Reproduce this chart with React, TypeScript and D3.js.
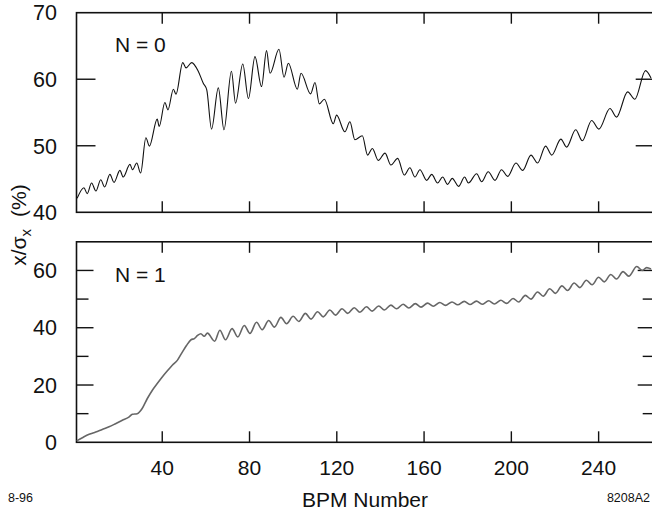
import React from "react";
import * as d3 from "d3";

// N = 0 : peaks / troughs [BPM, x/sigma_x %]
const bpmTop = [1.0, 4.1, 5.6, 7.6, 9.6, 11.8, 13.6, 16.0, 17.9, 20.6, 22.1, 25.2, 26.4, 28.3, 30.1, 32.5, 34.1, 37.7, 38.6, 41.2, 42.6, 45.1, 46.3, 49.4, 50.9, 53.5, 56.5, 58.8, 60.4, 62.6, 65.7, 68.3, 71.7, 73.6, 76.9, 79.5, 82.5, 85.5, 87.8, 89.4, 93.5, 95.8, 97.8, 101.9, 103.6, 108.0, 110.0, 112.0, 114.3, 118.4, 119.9, 123.7, 126.0, 128.3, 131.7, 134.1, 136.3, 139.0, 142.1, 144.8, 147.9, 150.9, 153.5, 155.8, 158.1, 161.2, 163.5, 166.2, 168.5, 170.8, 172.9, 175.8, 178.6, 180.3, 184.1, 186.4, 189.4, 192.5, 195.5, 198.3, 202.1, 205.2, 209.0, 212.0, 215.7, 218.5, 222.7, 225.3, 229.5, 232.5, 236.8, 240.1, 245.2, 248.2, 253.3, 256.6, 261.5, 264.0];
const valTop = [42.1, 43.7, 42.8, 44.4, 43.2, 44.9, 43.8, 45.7, 44.5, 46.3, 45.3, 47.2, 46.4, 47.4, 45.9, 51.2, 49.95, 54.0, 52.9, 56.5, 55.4, 58.5, 57.75, 62.5, 61.7, 62.5, 61.2, 59.4, 58.4, 52.5, 58.7, 52.4, 61.2, 56.4, 62.3, 57.1, 63.4, 58.9, 64.3, 60.9, 64.5, 60.3, 62.4, 58.5, 60.9, 57.8, 59.5, 56.3, 57.0, 53.3, 54.6, 52.1, 53.6, 50.9, 51.5, 48.6, 49.6, 47.8, 48.9, 47.1, 48.1, 45.6, 46.7, 45.3, 46.4, 44.8, 45.7, 44.4, 45.3, 44.2, 45.1, 43.9, 45.3, 44.4, 45.8, 44.6, 46.1, 44.8, 46.4, 45.4, 47.4, 46.3, 48.6, 47.4, 49.95, 48.6, 51.0, 49.8, 52.4, 50.75, 53.8, 52.5, 55.6, 54.3, 58.1, 57.0, 61.3, 60.2];

// N = 1
const bpmBot = [0.8, 3.4, 6.5, 9.5, 12.5, 15.6, 18.6, 21.7, 24.7, 26.3, 28.5, 30.8, 33.1, 35.4, 37.7, 40.0, 42.3, 44.6, 46.9, 49.2, 51.1, 53.2, 54.7, 56.2, 57.7, 59.2, 60.7, 64.0, 66.4, 69.0, 72.0, 74.6, 77.6, 80.2, 83.2, 85.8, 88.8, 91.4, 94.4, 97.0, 100.0, 102.6, 105.6, 108.2, 111.2, 113.8, 116.8, 119.4, 122.4, 125.0, 128.0, 130.6, 133.6, 136.2, 139.2, 141.8, 144.8, 147.4, 150.4, 153.0, 156.0, 158.6, 161.6, 164.2, 167.2, 169.8, 172.8, 175.4, 178.4, 181.0, 184.0, 186.6, 189.6, 192.2, 195.2, 197.8, 200.8, 203.4, 206.4, 209.0, 212.0, 214.6, 217.6, 220.2, 223.2, 225.8, 228.8, 231.4, 234.4, 237.0, 240.0, 242.6, 245.6, 248.2, 251.2, 253.8, 257.5, 260.0, 262.0, 264.0];
const valBot = [0.5, 1.6, 2.8, 3.6, 4.5, 5.4, 6.5, 7.7, 8.8, 9.8, 10.0, 11.8, 15.2, 18.1, 20.5, 22.8, 24.9, 26.9, 28.6, 31.5, 33.8, 35.8, 36.2, 37.3, 37.9, 37.0, 38.1, 35.3, 39.1, 35.8, 39.7, 36.8, 40.8, 38.0, 41.9, 39.3, 42.5, 40.2, 43.6, 41.4, 44.0, 42.2, 45.0, 43.0, 45.6, 43.8, 46.2, 44.4, 46.6, 45.0, 47.0, 45.4, 47.3, 45.8, 47.6, 46.2, 47.9, 46.6, 48.2, 46.9, 48.4, 47.2, 48.6, 47.5, 48.8, 47.8, 49.0, 48.0, 49.2, 48.1, 49.3, 48.2, 49.4, 48.3, 49.6, 48.5, 50.2, 49.0, 51.3, 50.0, 52.5, 51.0, 53.6, 52.0, 54.6, 53.0, 55.6, 54.0, 56.6, 55.0, 57.6, 56.0, 58.6, 57.0, 59.6, 58.0, 61.4, 60.0, 61.0, 60.5];

const xTicks = [40, 80, 120, 160, 200, 240];
const topYTicks = [40, 50, 60, 70];
const topYInner = [50, 60];
const botYTicks = [0, 20, 40, 60];
const botYMinor = [10, 30, 50];

const FONT = "'Liberation Sans', Arial, Helvetica, sans-serif";

export default function App() {
  const W = 652, H = 514;
  const x = d3.scaleLinear().domain([0.7, 265.7]).range([76.5, 654.7]);
  const yTop = d3.scaleLinear().domain([40, 70]).range([212.3, 12.7]);
  const yBot = d3.scaleLinear().domain([0, 70]).range([442.3, 241.8]);
  const [x0, x1] = x.range();

  const lineTop = d3.line<number>().x((_, i) => x(bpmTop[i])).y((d) => yTop(d)).curve(d3.curveMonotoneX);
  const lineBot = d3.line<number>().x((_, i) => x(bpmBot[i])).y((d) => yBot(d)).curve(d3.curveMonotoneX);

  const frameStroke = "#111";
  const panel = (y: d3.ScaleLinear<number, number>) => {
    const [yb, yt] = y.range();
    return (
      <g>
        <rect x={x0} y={yt} width={x1 - x0} height={yb - yt} fill="none" stroke={frameStroke} strokeWidth={1.6} />
        {xTicks.map((t) => (
          <g key={t}>
            <line x1={x(t)} x2={x(t)} y1={yt} y2={yt + 11} stroke={frameStroke} strokeWidth={1.4} />
            <line x1={x(t)} x2={x(t)} y1={yb} y2={yb - 11} stroke={frameStroke} strokeWidth={1.4} />
          </g>
        ))}
      </g>
    );
  };

  return (
    <svg width={W} height={H} style={{ position: "absolute", left: 0, top: 0, background: "#fff" }} fontFamily={FONT}>
      <rect x={0} y={0} width={W} height={H} fill="#fff" />
      {panel(yTop)}
      {panel(yBot)}
      {topYInner.map((t) => (
        <g key={"ti" + t}>
          <line x1={x0} x2={x0 + 19} y1={yTop(t)} y2={yTop(t)} stroke={frameStroke} strokeWidth={1.4} />
          <line x1={x1} x2={x1 - 19} y1={yTop(t)} y2={yTop(t)} stroke={frameStroke} strokeWidth={1.4} />
        </g>
      ))}
      {topYTicks.map((t) => (
        <text key={"tl" + t} x={57} y={yTop(t)} dy="0.36em" textAnchor="end" fontSize={21.5} fill="#111">{t}</text>
      ))}
      {botYTicks.filter((t) => t > 0).map((t) => (
        <g key={"bi" + t}>
          <line x1={x0} x2={x0 + 17} y1={yBot(t)} y2={yBot(t)} stroke={frameStroke} strokeWidth={1.4} />
          <line x1={x1} x2={x1 - 17} y1={yBot(t)} y2={yBot(t)} stroke={frameStroke} strokeWidth={1.4} />
        </g>
      ))}
      {botYMinor.map((t) => (
        <g key={"bm" + t}>
          <line x1={x0} x2={x0 + 12} y1={yBot(t)} y2={yBot(t)} stroke={frameStroke} strokeWidth={1.4} />
          <line x1={x1} x2={x1 - 12} y1={yBot(t)} y2={yBot(t)} stroke={frameStroke} strokeWidth={1.4} />
        </g>
      ))}
      {botYTicks.map((t) => (
        <text key={"bl" + t} x={57} y={yBot(t)} dy="0.36em" textAnchor="end" fontSize={21.5} fill="#111">{t}</text>
      ))}
      {xTicks.map((t) => (
        <text key={"xl" + t} x={x(t)} y={475} textAnchor="middle" fontSize={21} fill="#111">{t}</text>
      ))}
      <path d={lineTop(valTop) || ""} fill="none" stroke="#111" strokeWidth={1.1} />
      <path d={lineBot(valBot) || ""} fill="none" stroke="#666" strokeWidth={1.6} />
      <text x={115} y={52} fontSize={21} fill="#111">N = 0</text>
      <text x={115} y={282} fontSize={21} fill="#111">N = 1</text>
      <text transform="translate(26,225) rotate(-90)" textAnchor="middle" fontSize={21} fill="#111">
        x/σ<tspan fontSize={15} dy={5}>x</tspan><tspan dy={-5} dx={12}>(%)</tspan>
      </text>
      <text x={365} y={507} textAnchor="middle" fontSize={21} fill="#111">BPM Number</text>
      <text x={8} y={502} fontSize={12.5} fill="#111">8-96</text>
      <text x={650} y={502} textAnchor="end" fontSize={12.5} fill="#111">8208A2</text>
    </svg>
  );
}
